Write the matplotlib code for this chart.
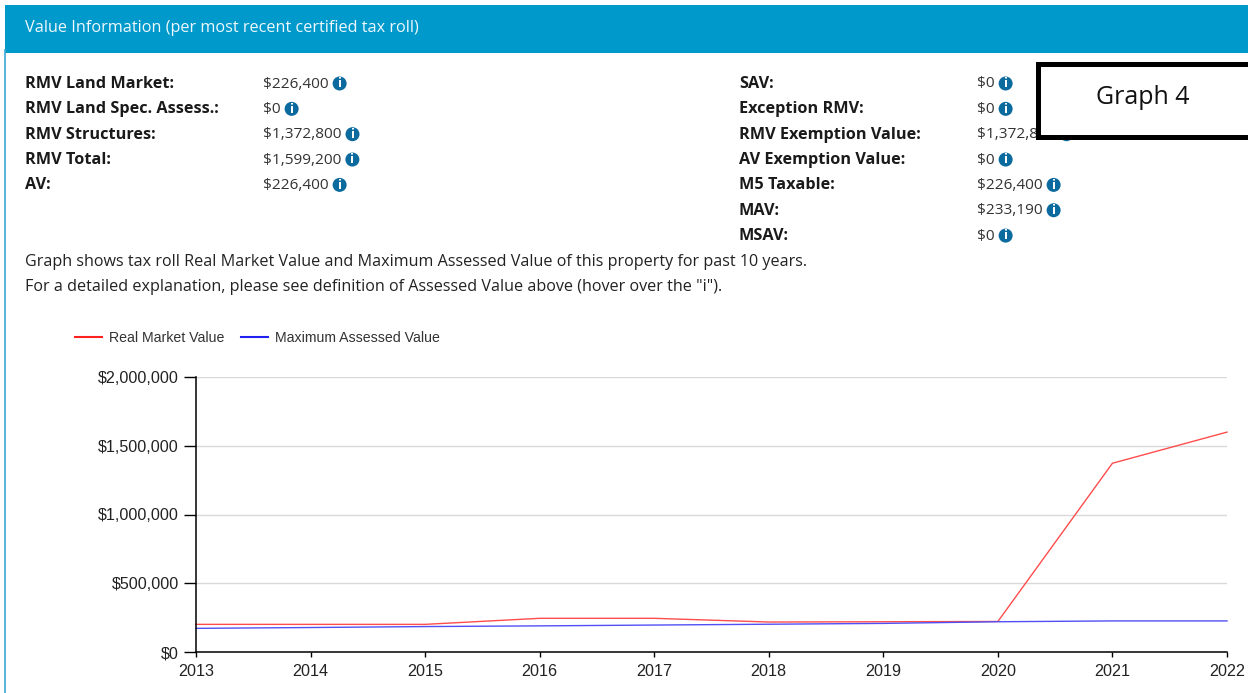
import matplotlib
matplotlib.use("Agg")
import matplotlib.pyplot as plt
from matplotlib.patches import Rectangle, Circle

years = [2013, 2014, 2015, 2016, 2017, 2018, 2019, 2020, 2021, 2022]
real_market = [201000, 201000, 201000, 245000, 245000, 218000, 220000, 222000, 1372800, 1599200]
max_assessed = [172000, 178000, 185000, 190000, 196000, 202000, 208000, 220000, 226000, 226000]
y_ticks = [0, 500000, 1000000, 1500000, 2000000]

left_labels = ["RMV Land Market:", "RMV Land Spec. Assess.:", "RMV Structures:", "RMV Total:", "AV:"]
left_values = ["$226,400", "$0", "$1,372,800", "$1,599,200", "$226,400"]
right_labels = ["SAV:", "Exception RMV:", "RMV Exemption Value:", "AV Exemption Value:", "M5 Taxable:", "MAV:", "MSAV:"]
right_values = ["$0", "$0", "$1,372,800", "$0", "$226,400", "$233,190", "$0"]

W, H = 1248, 693
fig = plt.figure(figsize=(W / 100, H / 100), dpi=100, facecolor="white")
bg = fig.add_axes([0, 0, 1, 1])
bg.set_xlim(0, W)
bg.set_ylim(H, 0)
bg.axis("off")

UI = "Open Sans"
DARK = "#222222"
BLUE = "#0099cc"
ICON = "#0b6a9e"

bg.add_patch(Rectangle((4.5, 5), W, 47.5, fc=BLUE, ec="none"))
bg.plot([5, 5], [50, H], color="#3aa9d2", lw=1.2)
bg.text(25, 28, "Value Information (per most recent certified tax roll)", family=UI,
        fontsize=11.7, color="#eef8fc", va="center", ha="left")


def icon(x, y):
    bg.add_patch(Circle((x, y), 7, fc=ICON, ec="none", zorder=3))
    bg.text(x, y + 0.3, "i", family="DejaVu Sans", weight="bold", fontsize=8.5, color="white",
            ha="center", va="center", zorder=4)


def rows(labels, values, xl, xv):
    r = fig.canvas.get_renderer()
    for i, (lab, val) in enumerate(zip(labels, values)):
        y = 84 + i * 25.35
        bg.text(xl, y, lab, family=UI, weight="bold", fontsize=11.7, color="#1a1a1a", va="center")
        t = bg.text(xv, y, val, family=UI, fontsize=11.1, color="#333333", va="center")
        bb = t.get_window_extent(r)
        icon(bb.x1 + 11, y - 0.5)


rows(left_labels, left_values, 25, 263)
rows(right_labels, right_values, 739, 977)

bg.text(25, 261.5, "Graph shows tax roll Real Market Value and Maximum Assessed Value of this property for past 10 years.",
        family=UI, fontsize=11.6, color=DARK, va="center")
bg.text(25, 287, 'For a detailed explanation, please see definition of Assessed Value above (hover over the "i").',
        family=UI, fontsize=11.6, color=DARK, va="center")

# Annotation box
bg.add_patch(Rectangle((1037.5, 63.5), W, 73, fc="white", ec="black", lw=3.6, zorder=5))
bg.text(1143, 97, "Graph 4", family=UI, fontsize=18, color="#111111", ha="center", va="center", zorder=6)

# Chart
x0, x1, ytop, ybot = 196, 1227, 377, 652
ax = fig.add_axes([x0 / W, 1 - ybot / H, (x1 - x0) / W, (ybot - ytop) / H])
ax.patch.set_alpha(0)
ax.set_xlim(years[0], years[-1])
ax.set_ylim(0, 2000000)
ax.set_xticks(years)
ax.set_xticklabels([str(y) for y in years])
ax.set_yticks(y_ticks)
ax.set_yticklabels([f"${v:,}" for v in y_ticks])
ax.grid(axis="y", color="#d9d9d9", lw=1)
ax.set_axisbelow(True)
for s in ["top", "right"]:
    ax.spines[s].set_visible(False)
for s in ["left", "bottom"]:
    ax.spines[s].set_color("black")
    ax.spines[s].set_linewidth(1.1)
ax.tick_params(axis="x", length=3.5, width=1, pad=5.5)
ax.tick_params(axis="y", length=9, width=1, pad=3.5)
for lab in ax.get_xticklabels() + ax.get_yticklabels():
    lab.set_family("Liberation Sans")
    lab.set_fontsize(11.6)
    lab.set_color("#222222")

ax.plot(years, real_market, color="#ff4d4d", lw=1.0, label="Real Market Value", clip_on=False)
ax.plot(years, max_assessed, color="#5050f5", lw=1.0, label="Maximum Assessed Value", clip_on=False)

# Legend
handles, labels = ax.get_legend_handles_labels()
leg = fig.legend(
    [plt.Line2D([], [], color="#ff2020", lw=1.5), plt.Line2D([], [], color="#2020f0", lw=1.5)],
    labels, loc="center left", bbox_to_anchor=(62 / W, 1 - 338 / H), ncol=2, frameon=False,
    prop={"family": "Liberation Sans", "size": 10.2}, handlelength=1.9, handletextpad=0.5,
    columnspacing=1.2, labelcolor="#333333")

fig.savefig("out.png", dpi=100)
